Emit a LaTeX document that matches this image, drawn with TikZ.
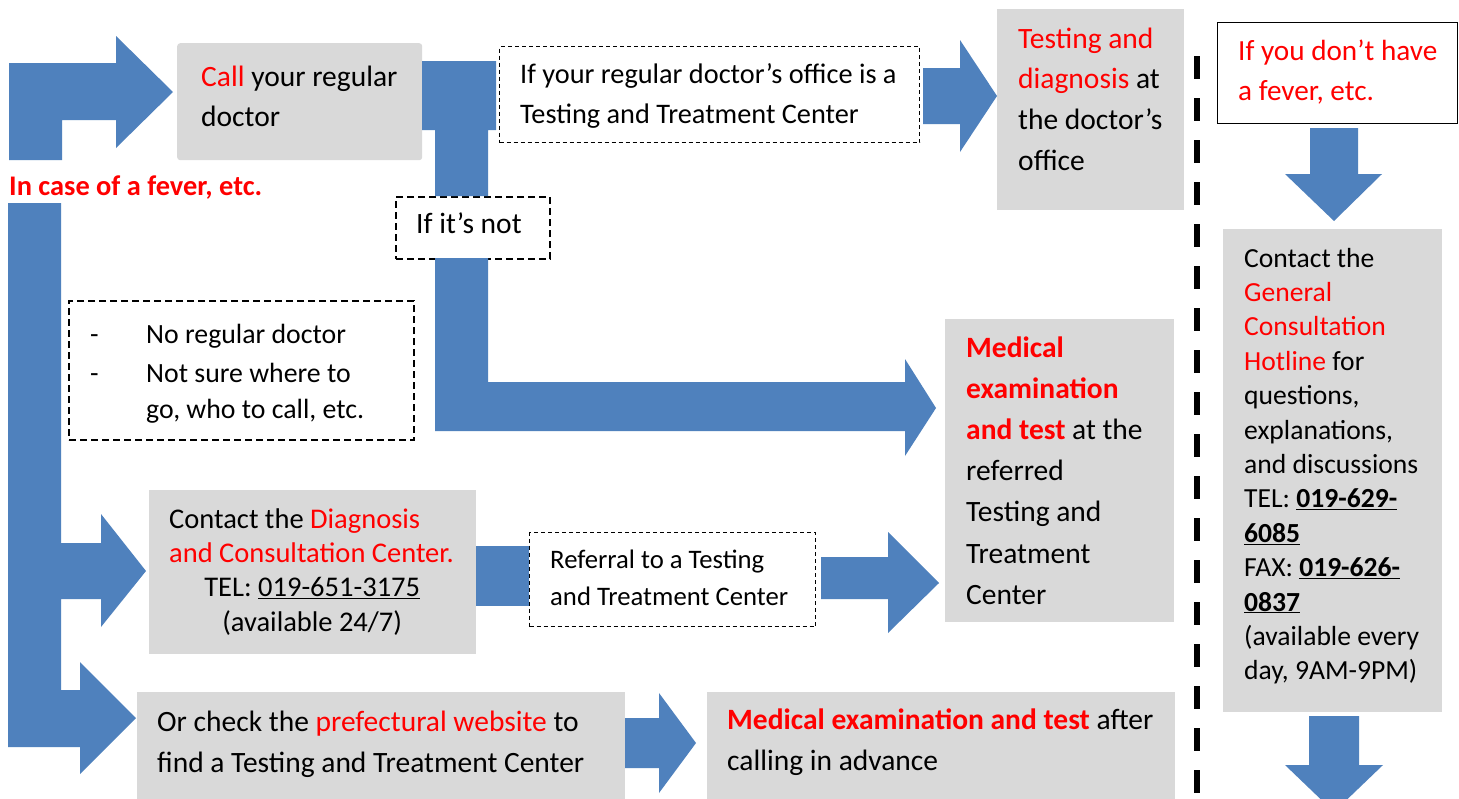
\documentclass[tikz,border=0pt]{standalone}
\usepackage{fontspec}
\setmainfont{Carlito}
\definecolor{blu}{RGB}{79,129,189}
\definecolor{gry}{RGB}{217,217,217}
\definecolor{rd}{RGB}{255,0,0}
\newcommand{\redt}[1]{\textcolor{rd}{#1}}
\newcommand{\mytb}[4]{\parbox[t]{#1}{\fontsize{#2}{#3}\selectfont\raggedright #4}}
\begin{document}
\begin{tikzpicture}[x=1pt,y=-1pt,
  graybox/.style={fill=gry, draw=none, inner sep=0pt, anchor=north west},
  dashbox/.style={draw=black, fill=white, line width=2pt, dash pattern=on 7pt off 4pt, inner sep=0pt, anchor=north west},
  thinbox/.style={draw=black, fill=white, line width=1pt, dash pattern=on 4pt off 3pt, inner sep=0pt, anchor=north west},
  solidbox/.style={draw=black, fill=white, line width=1.2pt, inner sep=0pt, anchor=north west},
  txt/.style={inner sep=0pt, anchor=base west},
  blockarrow/.style={fill=blu, draw=none}]
\useasboundingbox (0,0) rectangle (1459,798);
\clip (0,0) rectangle (1459,798);
\fill[white] (0,0) rectangle (1459,798);

% boxes
\node[graybox, rounded corners=3pt, minimum width=245pt, minimum height=117pt] (call) at (177,43) {};
\node[thinbox, minimum width=420pt, minimum height=96pt] (ifreg) at (499,46) {};
\node[dashbox, minimum width=154pt, minimum height=62pt] (ifnot) at (395,196) {};
\node[graybox, minimum width=187pt, minimum height=201pt] (testing) at (997,9) {};
\node[solidbox, minimum width=240pt, minimum height=101pt] (nofever) at (1217,22) {};
\node[graybox, minimum width=219pt, minimum height=483pt] (hotline) at (1223,229) {};
\node[dashbox, minimum width=345pt, minimum height=139pt] (noreg) at (68,300) {};
\node[graybox, minimum width=229pt, minimum height=303pt] (medical) at (945,319) {};
\node[graybox, minimum width=327pt, minimum height=164pt] (contact) at (149,490) {};
\node[thinbox, minimum width=286pt, minimum height=94pt] (referral) at (529,532) {};
\node[graybox, minimum width=488pt, minimum height=120pt] (orcheck) at (137,692) {};
\node[graybox, minimum width=468pt, minimum height=120pt] (medafter) at (707,692) {};

% block arrows
\fill[blockarrow] (9,63) -- (116,63) -- (116,36) -- (173,92) -- (116,148) -- (116,120) -- (62,120) -- (62,160) -- (9,160) -- cycle;
\fill[blockarrow] (422,61) -- (496,61) -- (496,130) -- (488,130) -- (488,196) -- (435,196) -- (435,130) -- (422,130) -- cycle;
\fill[blockarrow] (435,258) -- (488,258) -- (488,382) -- (905,382) -- (905,359) -- (936,408) -- (905,456) -- (905,431) -- (435,431) -- cycle;
\fill[blockarrow] (923,68) -- (960,68) -- (960,40) -- (997,96) -- (960,152) -- (960,124) -- (923,124) -- cycle;
\fill[blockarrow] (8,203) -- (61,203) -- (61,543) -- (101,543) -- (101,514) -- (146,571) -- (101,627) -- (101,599) -- (61,599) -- (61,690) -- (80,690) -- (80,662) -- (136,718) -- (80,774) -- (80,747) -- (8,747) -- cycle;
\fill[blockarrow] (476,546) rectangle (529,606);
\fill[blockarrow] (821,557) -- (888,557) -- (888,532) -- (939,583) -- (888,633) -- (888,599) -- (821,599) -- cycle;
\fill[blockarrow] (625,718) -- (659,718) -- (659,693) -- (696,743) -- (659,793) -- (659,768) -- (625,768) -- cycle;
\fill[blockarrow] (1310,128) -- (1358,128) -- (1358,174) -- (1382,174) -- (1334,221) -- (1285,174) -- (1310,174) -- cycle;
\fill[blockarrow] (1309,716) -- (1359,716) -- (1359,765) -- (1383,765) -- (1334,812) -- (1285,765) -- (1309,765) -- cycle;

% separator
\draw[line width=6pt, dash pattern=on 23pt off 19pt] (1197,56) -- (1197,805);

% texts
\node[txt] (t-fever) at (9,195) {\mytb{300pt}{28.4}{33}{\bfseries\redt{In case of a fever, etc.}}};
\node[txt] (t-call) at (201,86) {\mytb{220pt}{29.5}{40.7}{\redt{Call} your regular\\doctor}};
\node[txt] (t-ifreg) at (520,83) {\mytb{400pt}{28.3}{40}{If your regular doctor’s office is a\\Testing and Treatment Center}};
\node[txt] (t-ifnot) at (416,233) {\mytb{140pt}{29.5}{40}{If it’s not}};
\node[txt] (t-testing) at (1018,48) {\mytb{170pt}{29.5}{40.7}{\redt{Testing and}\\\redt{diagnosis} at\\the doctor’s\\office}};
\node[txt] (t-nofever) at (1238,60) {\mytb{220pt}{29.2}{40}{\redt{If you don’t have}\\\redt{a fever, etc.}}};
\node[txt] (t-hotline) at (1244,267) {\mytb{200pt}{27.6}{34.4}{Contact the\\\redt{General}\\\redt{Consultation}\\\redt{Hotline} for\\questions,\\explanations,\\and discussions\\TEL: \underline{\textbf{019-629-}}\\\underline{\textbf{6085}}\\FAX: \underline{\textbf{019-626-}}\\\underline{\textbf{0837}}\\(available every\\day, 9AM-9PM)}};
\node[txt] (t-noreg1b) at (90,343) {\mytb{20pt}{27.8}{36.6}{-}};
\node[txt] (t-noreg1) at (146,343) {\mytb{260pt}{27.8}{36.6}{No regular doctor}};
\node[txt] (t-noreg2b) at (90,382) {\mytb{20pt}{27.8}{36.6}{-}};
\node[txt] (t-noreg2) at (146,382) {\mytb{260pt}{27.8}{36.6}{Not sure where to\\go, who to call, etc.}};
\node[txt] (t-medical) at (966,357) {\mytb{205pt}{29.5}{41.2}{\textbf{\redt{Medical}}\\\textbf{\redt{examination}}\\\textbf{\redt{and test}} at the\\referred\\Testing and\\Treatment\\Center}};
\node[txt] (t-contact) at (169,528) {\parbox[t]{286pt}{\fontsize{28.5}{34.4}\selectfont\raggedright\mbox{Contact the \redt{Diagnosis}}\\\mbox{\redt{and Consultation Center.}}\par\centering TEL: \underline{019-651-3175}\\(available 24/7)\par}};
\node[txt] (t-referral) at (550,568) {\mytb{260pt}{26.7}{37}{Referral to a Testing\\and Treatment Center}};
\node[txt] (t-orcheck) at (157,731) {\mytb{470pt}{29.5}{41}{Or check the \redt{prefectural website} to\\find a Testing and Treatment Center}};
\node[txt] (t-medafter) at (727,729) {\mytb{450pt}{29.5}{41}{\textbf{\redt{Medical examination and test}} after\\calling in advance}};
\end{tikzpicture}
\end{document}
